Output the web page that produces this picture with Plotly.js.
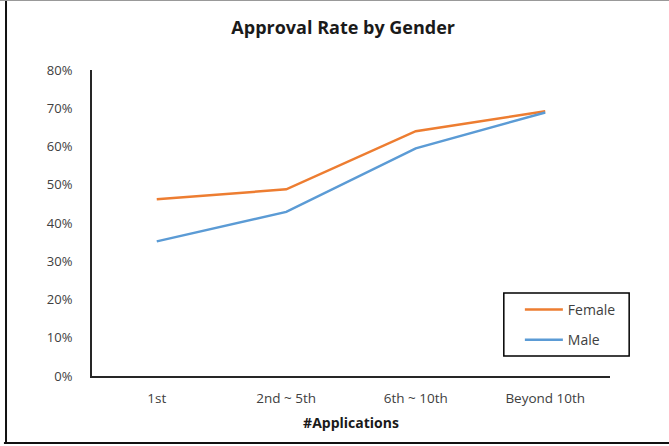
<!DOCTYPE html>
<html>
<head>
<meta charset="utf-8">
<script src="https://cdn.plot.ly/plotly-3.0.1.min.js"></script>
<style>html,body{margin:0;padding:0;background:#fff;}#chart{width:669px;height:446px;}</style>
</head>
<body>
<div id="chart"></div>
<script>
const categories = ["1st", "2nd ~ 5th", "6th ~ 10th", "Beyond 10th"];
const female = [0.462, 0.488, 0.640, 0.692];
const male = [0.352, 0.429, 0.595, 0.689];
const yTickVals = [0, 0.1, 0.2, 0.3, 0.4, 0.5, 0.6, 0.7, 0.8];
const yTickText = ["0%", "10%", "20%", "30%", "40%", "50%", "60%", "70%", "80%"];

const font = "Open Sans, Noto Sans, sans-serif";
const traces = [
  {x: categories, y: female, name: "Female", type: "scatter", mode: "lines", legendgroup: "f",
   line: {color: "#ED7D31", width: 2.5}},
  {x: categories, y: male, name: "Male", type: "scatter", mode: "lines", legendgroup: "m",
   line: {color: "#5B9BD5", width: 2.5}}
];
const layout = {
  width: 669, height: 446,
  margin: {l: 92, r: 59, t: 70, b: 70},
  paper_bgcolor: "#fff", plot_bgcolor: "#fff",
  font: {family: font, size: 13, color: "#404040"},
  title: {text: "<b>Approval Rate by Gender</b>", x: 0.513, xanchor: "center", y: 0.937, yanchor: "middle",
          font: {family: font, size: 18, color: "#1a1a1a"}},
  xaxis: {type: "category", showgrid: false, zeroline: false, showline: true, linecolor: "#262626", linewidth: 2,
          ticks: "", ticklabelstandoff: 9, range: [-0.5, 3.5], tickfont: {size: 13.5},
          title: {text: "<b>#Applications</b>", standoff: 12, font: {family: font, size: 14, color: "#1a1a1a"}}},
  yaxis: {range: [0, 0.8], tickvals: yTickVals, ticktext: yTickText, showgrid: false, zeroline: false,
          showline: true, linecolor: "#262626", linewidth: 2, ticks: "", ticklabelstandoff: 15, tickfont: {size: 13}},
  showlegend: true,
  legend: {x: 0.826, y: 0.268, xanchor: "left", yanchor: "top", borderwidth: 0,
           bgcolor: "rgba(0,0,0,0)", font: {family: font, size: 14, color: "#404040"}, itemwidth: 38, tracegroupgap: 9},
  shapes: [
    {type: "rect", xref: "paper", yref: "paper", x0: 0.795, x1: 1.037, y0: 0.065, y1: 0.271, line: {color: "#000", width: 1.5}, fillcolor: "#fff", layer: "below"},
    {type: "line", xref: "paper", yref: "paper", x0: -0.166, x1: -0.166, y0: -0.219, y1: 1.229, line: {color: "#111", width: 2}},
    {type: "line", xref: "paper", yref: "paper", x0: -0.18, x1: 1.12, y0: 1.229, y1: 1.229, line: {color: "#999", width: 2}},
    {type: "line", xref: "paper", yref: "paper", x0: -0.17, x1: 1.12, y0: -0.219, y1: -0.219, line: {color: "#111", width: 2}}
  ]
};
Plotly.newPlot("chart", traces, layout, {displayModeBar: false, staticPlot: true});
</script>
</body>
</html>
